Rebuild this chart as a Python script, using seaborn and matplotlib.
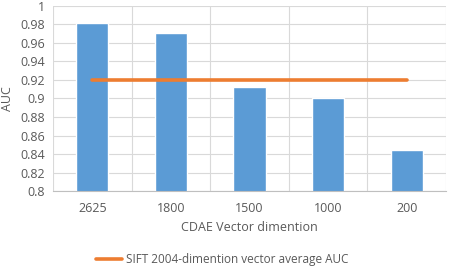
import matplotlib
matplotlib.use("Agg")
import matplotlib.pyplot as plt
import pandas as pd
import seaborn as sns

dims = ["2625", "1800", "1500", "1000", "200"]
auc = [0.981, 0.971, 0.912, 0.900, 0.844]
sift_auc = [0.92, 0.92, 0.92, 0.92, 0.92]

df = pd.DataFrame({"dim": dims, "auc": auc, "sift": sift_auc})

sns.set_style("white")
plt.rcParams["font.family"] = ["Open Sans", "DejaVu Sans"]
txt = "#595959"

fig = plt.figure(figsize=(4.5, 2.68), dpi=100)
ax = fig.add_axes([0.118, 0.287, 0.873, 0.691])

sns.barplot(data=df, x="dim", y="auc", color="#5B9BD5", saturation=1,
            width=0.41, ax=ax, zorder=2)
sns.lineplot(data=df, x="dim", y="sift", color="#ED7D31", lw=2.6, ax=ax,
             sort=False, zorder=3, label="SIFT 2004-dimention vector average AUC")

ax.set_ylim(0.8, 1.0)
ax.set_xlim(-0.5, 4.5)
ax.set_yticks([0.8, 0.82, 0.84, 0.86, 0.88, 0.9, 0.92, 0.94, 0.96, 0.98, 1.0])
ax.set_yticklabels(["0.8", "0.82", "0.84", "0.86", "0.88", "0.9", "0.92",
                    "0.94", "0.96", "0.98", "1"])
ax.set_xticks([-0.5, 0.5, 1.5, 2.5, 3.5, 4.5], minor=True)
ax.grid(axis="y", color="#D9D9D9", lw=0.8, zorder=0)
ax.grid(axis="x", which="minor", color="#D9D9D9", lw=0.8, zorder=0)
ax.grid(axis="x", which="major", visible=False)
ax.set_axisbelow(True)
sns.despine(ax=ax, left=True, top=True, right=True)
ax.spines["bottom"].set_color("#BFBFBF")
ax.tick_params(axis="both", which="both", length=0, colors=txt, labelsize=9)
ax.tick_params(axis="x", pad=8)
ax.tick_params(axis="y", pad=6)
ax.set_xlabel("CDAE Vector dimention", color=txt, fontsize=9, labelpad=4)
ax.set_ylabel("AUC", color=txt, fontsize=9, labelpad=4)

handles, labels = ax.get_legend_handles_labels()
ax.get_legend().remove()
fig.legend(handles, labels, loc="center", bbox_to_anchor=(0.494, 0.03),
           frameon=False, fontsize=8.5, labelcolor=txt, handlelength=2.2,
           handletextpad=0.3)

fig.savefig("out.png", dpi=100)
